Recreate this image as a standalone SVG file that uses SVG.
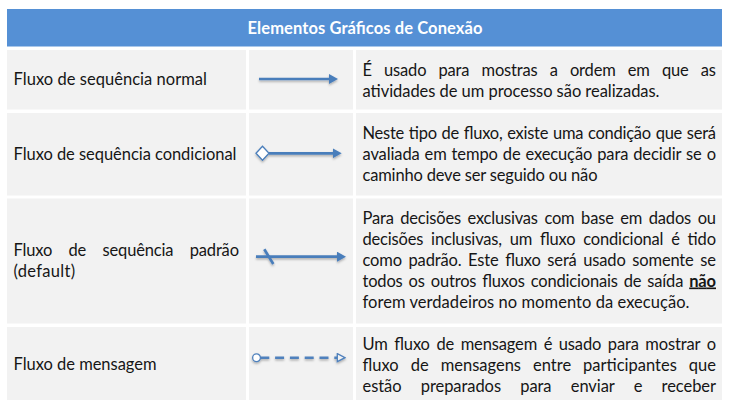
<svg xmlns="http://www.w3.org/2000/svg" width="729" height="406" viewBox="0 0 729 406">
<style>
.cell{fill:#F2F2F2}
.head{fill:#5590D5}
.t{font-family:Lato,'Noto Sans',sans-serif;font-size:16.5px;fill:#161616}
.h{font-family:Lato,'Noto Sans',sans-serif;font-size:16.5px;font-weight:bold;fill:#FFFFFF}
.b{font-weight:bold;text-decoration:underline}
.flow{fill:none;stroke:#4A7EBB;stroke-width:2.7}
.msg{fill:none;stroke:#4F81BD;stroke-width:2.6;stroke-dasharray:9 5.8}
</style>
<defs>
<filter id="sh" x="-10%" y="-50%" width="120%" height="200%">
<feDropShadow dx="0" dy="1.5" stdDeviation="0.9" flood-color="#000" flood-opacity="0.3"/>
</filter>
<marker id="arrow" markerUnits="userSpaceOnUse" viewBox="0 0 9 10" refX="4" refY="5" markerWidth="9" markerHeight="10" orient="auto">
<path d="M0,0 L9,5 L0,10 Z" fill="#4A7EBB"/>
</marker>
<marker id="diamond" markerUnits="userSpaceOnUse" viewBox="-1 -1 15 16" refX="13" refY="7" markerWidth="15" markerHeight="16" orient="auto">
<path d="M0,7 L6.5,0 L13,7 L6.5,14 Z" fill="#FFFFFF" stroke="#4A7EBB" stroke-width="1.3"/>
</marker>
<marker id="circle" markerUnits="userSpaceOnUse" viewBox="-1 -1 10.5 10.5" refX="8" refY="4.25" markerWidth="10.5" markerHeight="10.5" orient="auto">
<circle cx="4.25" cy="4.25" r="3.9" fill="#FFFFFF" stroke="#4F81BD" stroke-width="1.3"/>
</marker>
<marker id="open" markerUnits="userSpaceOnUse" viewBox="-1 -1 10 10" refX="0" refY="4" markerWidth="10" markerHeight="10" orient="auto">
<path d="M0,0 L7.7,4 L0,8 Z" fill="#F2F2F2" stroke="#4F81BD" stroke-width="1.3"/>
</marker>
</defs>

<g id="header">
<rect class="head" x="7" y="9" width="715" height="37.5"/>
<text class="h" x="365" y="34" text-anchor="middle" textLength="235" lengthAdjust="spacing">Elementos Gráficos de Conexão</text>
</g>

<g id="row-normal">
<rect class="cell" x="7" y="50" width="239" height="59.5"/>
<rect class="cell" x="249" y="50" width="104" height="59.5"/>
<rect class="cell" x="356" y="50" width="366" height="59.5"/>
<text class="t" x="13.5" y="85" textLength="193.5" lengthAdjust="spacing">Fluxo de sequência normal</text>
<text class="t" x="362.5" y="75.5" word-spacing="8.2" textLength="353.5" lengthAdjust="spacing">É usado para mostras a ordem em que as</text>
<text class="t" x="362.5" y="96.5" textLength="297" lengthAdjust="spacing">atividades de um processo são realizadas.</text>
</g>

<g id="row-conditional">
<rect class="cell" x="7" y="113" width="239" height="82.5"/>
<rect class="cell" x="249" y="113" width="104" height="82.5"/>
<rect class="cell" x="356" y="113" width="366" height="82.5"/>
<text class="t" x="13.5" y="159.5" textLength="223" lengthAdjust="spacing">Fluxo de sequência condicional</text>
<text class="t" x="362.5" y="138.5" word-spacing="0.8" textLength="353.5" lengthAdjust="spacing">Neste tipo de fluxo, existe uma condição que será</text>
<text class="t" x="362.5" y="159.5" word-spacing="0.9" textLength="353.5" lengthAdjust="spacing">avaliada em tempo de execução para decidir se o</text>
<text class="t" x="362.5" y="180.5" textLength="235" lengthAdjust="spacing">caminho deve ser seguido ou não</text>
</g>

<g id="row-default">
<rect class="cell" x="7" y="198.5" width="239" height="125"/>
<rect class="cell" x="249" y="198.5" width="104" height="125"/>
<rect class="cell" x="356" y="198.5" width="366" height="125"/>
<text class="t" x="13.5" y="256" word-spacing="12.3" textLength="225.5" lengthAdjust="spacing">Fluxo de sequência padrão</text>
<text class="t" x="13.5" y="277" textLength="61.6" lengthAdjust="spacing">(default)</text>
<text class="t" x="362.5" y="223.5" word-spacing="2.6" textLength="353.5" lengthAdjust="spacing">Para decisões exclusivas com base em dados ou</text>
<text class="t" x="362.5" y="244.5" word-spacing="3.8" textLength="353.5" lengthAdjust="spacing">decisões inclusivas, um fluxo condicional é tido</text>
<text class="t" x="362.5" y="265.5" word-spacing="2.6" textLength="353.5" lengthAdjust="spacing">como padrão. Este fluxo será usado somente se</text>
<text class="t" x="362.5" y="286.5" word-spacing="2" textLength="353.5" lengthAdjust="spacing">todos os outros fluxos condicionais de saída <tspan class="b">não</tspan></text>
<text class="t" x="362.5" y="307.5" textLength="327" lengthAdjust="spacing">forem verdadeiros no momento da execução.</text>
</g>

<g id="row-message">
<rect class="cell" x="7" y="327" width="239" height="73"/>
<rect class="cell" x="249" y="327" width="104" height="73"/>
<rect class="cell" x="356" y="327" width="366" height="73"/>
<text class="t" x="13.5" y="370" textLength="143" lengthAdjust="spacing">Fluxo de mensagem</text>
<text class="t" x="362.5" y="349.5" word-spacing="2.5" textLength="353.5" lengthAdjust="spacing">Um fluxo de mensagem é usado para mostrar o</text>
<text class="t" x="362.5" y="370.5" word-spacing="7.8" textLength="353.5" lengthAdjust="spacing">fluxo de mensagens entre participantes que</text>
<text class="t" x="362.5" y="391.5" word-spacing="15.1" textLength="353.5" lengthAdjust="spacing">estão preparados para enviar e receber</text>
</g>

<g id="connectors" filter="url(#sh)">
<path class="flow" d="M259,79 H333" marker-end="url(#arrow)"/>
<path class="flow" d="M269,153.3 H336.7" marker-start="url(#diamond)" marker-end="url(#arrow)"/>
<path class="flow" d="M256,256.7 H341" marker-end="url(#arrow)"/>
<path class="flow" d="M264.3,249.3 L273.3,264"/>
<path class="msg" d="M260.3,357.7 H337.3" marker-start="url(#circle)" marker-end="url(#open)"/>
</g>
</svg>
